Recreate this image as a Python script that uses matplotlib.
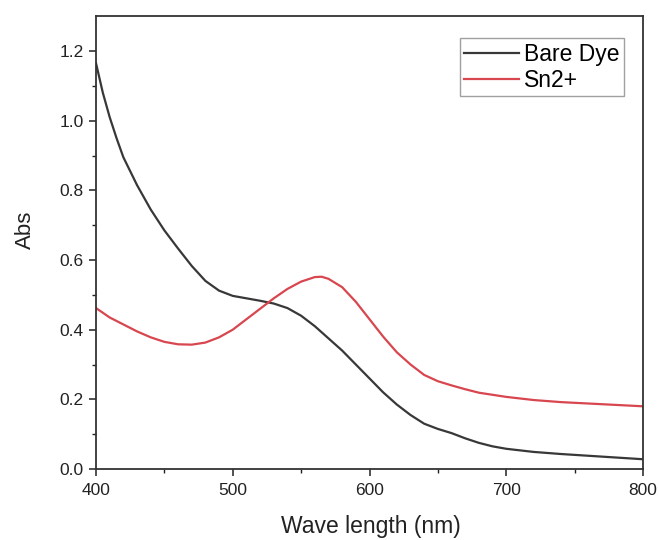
import matplotlib.pyplot as plt
from matplotlib.ticker import MultipleLocator, FixedLocator

plt.rcParams['font.family'] = ['Liberation Sans', 'DejaVu Sans']

# wavelengths (nm)
wl_bare = [400, 405, 410, 415, 420, 430, 440, 450, 460, 470, 480, 490, 500, 510,
           520, 530, 540, 550, 560, 570, 580, 590, 600, 610, 620, 630, 640, 650,
           660, 670, 680, 690, 700, 720, 740, 760, 780, 800]
abs_bare = [1.165, 1.08, 1.01, 0.95, 0.895, 0.815, 0.745, 0.685, 0.633, 0.583,
            0.54, 0.512, 0.497, 0.49, 0.483, 0.475, 0.462, 0.44, 0.41, 0.375,
            0.34, 0.30, 0.26, 0.22, 0.185, 0.155, 0.13, 0.115, 0.103, 0.088,
            0.075, 0.065, 0.058, 0.049, 0.043, 0.038, 0.033, 0.028]

wl_sn = [400, 410, 420, 430, 440, 450, 460, 470, 480, 490, 500, 510, 520, 530,
         540, 550, 560, 565, 570, 580, 590, 600, 610, 620, 630, 640, 650, 660,
         670, 680, 700, 720, 740, 760, 780, 800]
abs_sn = [0.462, 0.435, 0.415, 0.395, 0.378, 0.365, 0.358, 0.357, 0.363, 0.378,
          0.40, 0.43, 0.46, 0.49, 0.517, 0.538, 0.551, 0.552, 0.546, 0.522, 0.48,
          0.43, 0.38, 0.335, 0.30, 0.27, 0.252, 0.24, 0.229, 0.219, 0.207, 0.198,
          0.192, 0.188, 0.184, 0.18]

fig = plt.figure(figsize=(6.59, 5.4), dpi=100)
ax = fig.add_axes([0.1457, 0.1315, 0.83, 0.8385])

ax.plot(wl_bare, abs_bare, color='#383838', lw=1.6, label='Bare Dye')
ax.plot(wl_sn, abs_sn, color='#d8464f', lw=1.6, label='Sn2+')

ax.set_xlim(400, 800)
ax.set_ylim(0, 1.3)
ax.xaxis.set_major_locator(MultipleLocator(100))
ax.xaxis.set_minor_locator(MultipleLocator(50))
ax.yaxis.set_major_locator(FixedLocator([0, 0.2, 0.4, 0.6, 0.8, 1.0, 1.2]))
ax.yaxis.set_minor_locator(FixedLocator([0.1, 0.3, 0.5, 0.7, 0.9, 1.1]))
ax.yaxis.set_major_formatter(plt.FuncFormatter(lambda v, p: f"{v:.1f}"))

ax.tick_params(which='major', direction='out', length=5, width=1.1, labelsize=12.5, colors='#222222')
ax.tick_params(axis='x', which='major', pad=5)
ax.tick_params(axis='y', which='major', pad=4)
ax.tick_params(which='minor', direction='out', length=3, width=1.0, colors='#222222')
for s in ax.spines.values():
    s.set_linewidth(1.3)
    s.set_color('#333333')

ax.set_xlabel("Wave length (nm)", fontsize=16.5, color='#222222')
ax.set_ylabel("Abs", fontsize=16, color='#222222')
ax.xaxis.set_label_coords(0.503, -0.102)
ax.yaxis.set_label_coords(-0.11, 0.528)

leg = ax.legend(loc='upper right', bbox_to_anchor=(0.965, 0.951), fontsize=16.5,
                frameon=True, fancybox=False, handlelength=2.4, handletextpad=0.2,
                borderpad=0.2, labelspacing=0.12, borderaxespad=0)
leg.get_frame().set_edgecolor('#888888')
leg.get_frame().set_linewidth(1.0)

fig.savefig("out.png", dpi=100)
